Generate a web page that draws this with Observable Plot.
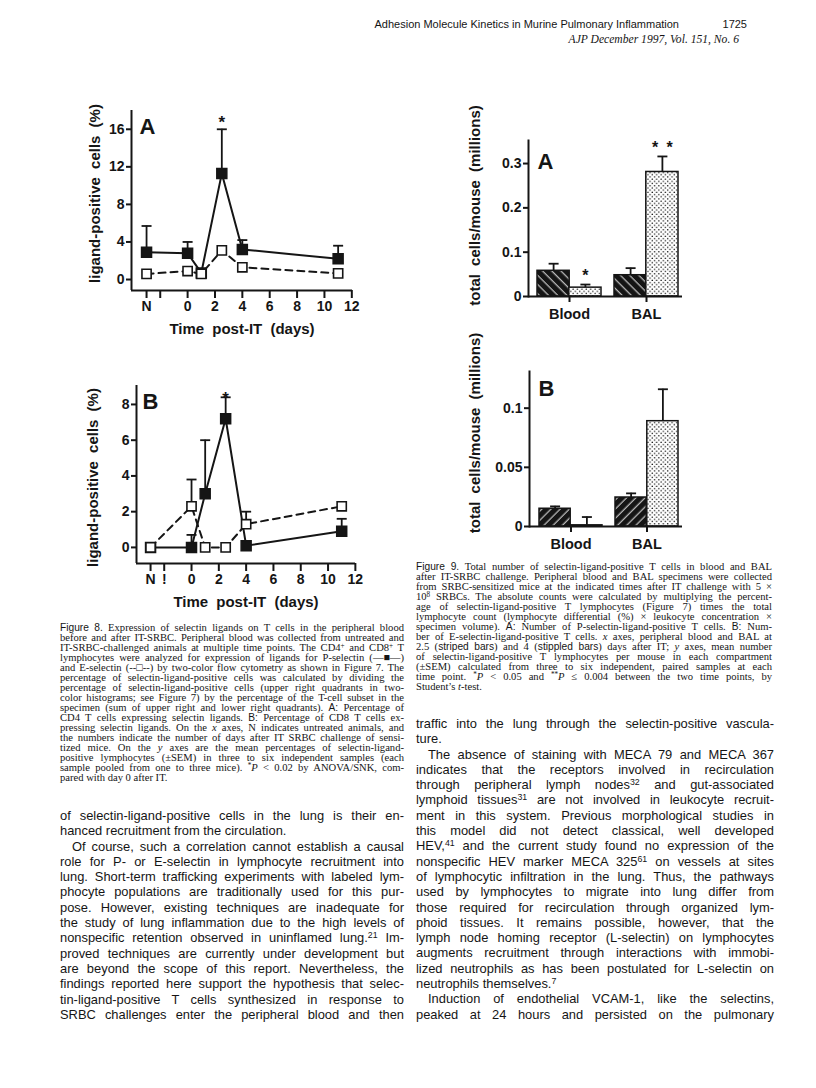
<!DOCTYPE html>
<html>
<head>
<meta charset="utf-8">
<script src="https://cdn.jsdelivr.net/npm/d3@7"></script>
<script src="https://cdn.jsdelivr.net/npm/@observablehq/plot@0.6"></script>
<style>
  html,body{margin:0;padding:0;background:#fff;}
  #page{position:relative;width:816px;height:1088px;overflow:hidden;background:#fff;color:#151515;}
  .abs{position:absolute;}
  .sans{font-family:"Liberation Sans",Arial,Helvetica,sans-serif;}
  .serif{font-family:"Liberation Serif","Times New Roman",Times,serif;}
  .cap{position:absolute;font-family:"Liberation Serif","Times New Roman",serif;font-size:10.6px;}
  .cap .fig{font-family:"Liberation Sans",Arial,sans-serif;font-size:10.2px;}
  .body{position:absolute;font-family:"Liberation Sans",Arial,sans-serif;font-size:12.9px;}
  sup{font-size:0.68em;line-height:0;vertical-align:0.45em;}
</style>
</head>
<body>
<div id="page">
  <svg width="0" height="0" style="position:absolute;left:0;top:0">
    <defs>
      <pattern id="hatchBack" patternUnits="userSpaceOnUse" width="6.5" height="6.5" patternTransform="rotate(-45)">
        <rect width="6.5" height="6.5" fill="#151515"/>
        <line x1="3" y1="0" x2="3" y2="6.5" stroke="#fff" stroke-width="0.9"/>
      </pattern>
      <pattern id="hatchFwd" patternUnits="userSpaceOnUse" width="6.5" height="6.5" patternTransform="rotate(45)">
        <rect width="6.5" height="6.5" fill="#151515"/>
        <line x1="3" y1="0" x2="3" y2="6.5" stroke="#fff" stroke-width="0.9"/>
      </pattern>
      <pattern id="stipple" patternUnits="userSpaceOnUse" width="4.4" height="4.4">
        <rect width="4.4" height="4.4" fill="#fff"/>
        <circle cx="1.1" cy="1.1" r="0.75" fill="#151515"/>
        <circle cx="3.3" cy="3.3" r="0.75" fill="#151515"/>
      </pattern>
    </defs>
  </svg>

  <div class="abs sans" id="hdr1" style="top:18px;font-size:11px;white-space:nowrap;">Adhesion Molecule Kinetics in Murine Pulmonary Inflammation</div>
  <div class="abs sans" id="hdr2" style="top:18px;font-size:11px;white-space:nowrap;">1725</div>
  <div class="abs serif" id="hdr3" style="top:33px;font-size:11.6px;font-style:italic;white-space:nowrap;">AJP December 1997, Vol. 151, No. 6</div>

  <div class="cap" id="cap8" style="left:60px;top:623px;width:344px;"></div>
  <div class="cap" id="cap9" style="left:416px;top:562px;width:356px;"></div>
  <div class="body" id="bodyL" style="left:60px;top:808px;width:344px;"></div>
  <div class="body" id="bodyR" style="left:416px;top:716px;width:358px;"></div>
</div>

<script>
// ---------------- DATA ----------------
// Figure 8: x = days after IT challenge (-3 stands for "N", untreated)
const dayTicks = [-3, -2, 0, 2, 4, 6, 8, 10, 12];
const days = [-3, 0, 1, 2.5, 4, 11];

// Fig 8A (CD4): P-selectin ligand (filled) and E-selectin ligand (open), % positive, SEM
const aPsel    = [2.9, 2.8, 0.7, 11.3, 3.2, 2.2];
const aPselErr = [2.8, 1.2, null, 4.7, 1.0, 1.4];
const aPselSig = ["", "", "", "*", "", ""];
const aEsel    = [0.6, 0.9, 0.6, 3.1, 1.3, 0.65];
const aEselErr = [null, null, null, null, null, null];
const aTicks   = [0, 4, 8, 12, 16];

// Fig 8B (CD8)
const bPsel    = [0, 0, 3.0, 7.2, 0.1, 0.9];
const bPselErr = [null, 0.7, 3.0, 1.2, null, 0.7];
const bPselSig = ["", "", "", "*", "", ""];
const bEsel    = [0, 2.3, 0, 0, 1.3, 2.3];
const bEselErr = [null, 1.5, null, null, 0.7, null];
const bTicks   = [0, 2, 4, 6, 8];

// Figure 9: total cells/mouse (millions) at 2.5 days (striped) and 4 days (stippled)
const sites = ["Blood", "BAL"];
const nineA_d25 = [0.058, 0.048], nineA_d25Err = [0.016, 0.016];
const nineA_d4  = [0.020, 0.281], nineA_d4Err  = [0.007, 0.035];
const nineA_d4Sig = ["*", "* *"];
const nineA_ticks = [0, 0.1, 0.2, 0.3];
const nineB_d25 = [0.015, 0.0245], nineB_d25Err = [0.002, 0.0035];
const nineB_d4  = [0.001, 0.089],  nineB_d4Err  = [0.007, 0.027];
const nineB_d4Sig = ["", ""];
const nineB_ticks = [0, 0.05, 0.1];

// ---------------- TEXT ----------------
const cap8Lines = [
  '<span class="fig">Figure 8.</span> Expression of selectin ligands on T cells in the peripheral blood',
  'before and after IT-SRBC. Peripheral blood was collected from untreated and',
  'IT-SRBC-challenged animals at multiple time points. The CD4<sup>+</sup> and CD8<sup>+</sup> T',
  'lymphocytes were analyzed for expression of ligands for P-selectin (\u2014\u25A0\u2014)',
  'and E-selectin (--\u25A1--) by two-color flow cytometry as shown in Figure 7. The',
  'percentage of selectin-ligand-positive cells was calculated by dividing the',
  'percentage of selectin-ligand-positive cells (upper right quadrants in two-',
  'color histograms; see Figure 7) by the percentage of the T-cell subset in the',
  'specimen (sum of upper right and lower right quadrants). <span class="fig">A:</span> Percentage of',
  'CD4 T cells expressing selectin ligands. <span class="fig">B:</span> Percentage of CD8 T cells ex-',
  'pressing selectin ligands. On the <i>x</i> axes, N indicates untreated animals, and',
  'the numbers indicate the number of days after IT SRBC challenge of sensi-',
  'tized mice. On the <i>y</i> axes are the mean percentages of selectin-ligand-',
  'positive lymphocytes (\u00B1SEM) in three to six independent samples (each',
  'sample pooled from one to three mice). <sup>*</sup><i>P</i> &lt; 0.02 by ANOVA/SNK, com-',
  'pared with day 0 after IT.'
];
const cap9Lines = [
  '<span class="fig">Figure 9.</span> Total number of selectin-ligand-positive T cells in blood and BAL',
  'after IT-SRBC challenge. Peripheral blood and BAL specimens were collected',
  'from SRBC-sensitized mice at the indicated times after IT challenge with 5 \u00D7',
  '10<sup>8</sup> SRBCs. The absolute counts were calculated by multiplying the percent-',
  'age of selectin-ligand-positive T lymphocytes (Figure 7) times the total',
  'lymphocyte count (lymphocyte differential (%) \u00D7 leukocyte concentration \u00D7',
  'specimen volume). <span class="fig">A:</span> Number of P-selectin-ligand-positive T cells. <span class="fig">B:</span> Num-',
  'ber of E-selectin-ligand-positive T cells. <i>x</i> axes, peripheral blood and BAL at',
  '2.5 (<span class="fig">striped bars</span>) and 4 (<span class="fig">stippled bars</span>) days after IT; <i>y</i> axes, mean number',
  'of selectin-ligand-positive T lymphocytes per mouse in each compartment',
  '(\u00B1SEM) calculated from three to six independent, paired samples at each',
  'time point. <sup>*</sup><i>P</i> &lt; 0.05 and <sup>**</sup><i>P</i> \u2264 0.004 between the two time points, by',
  'Student\u2019s <i>t</i>-test.'
];
const bodyLLines = [
  'of selectin-ligand-positive cells in the lung is their en-',
  'hanced recruitment from the circulation.',
  'Of course, such a correlation cannot establish a causal',
  'role for P- or E-selectin in lymphocyte recruitment into',
  'lung. Short-term trafficking experiments with labeled lym-',
  'phocyte populations are traditionally used for this pur-',
  'pose. However, existing techniques are inadequate for',
  'the study of lung inflammation due to the high levels of',
  'nonspecific retention observed in uninflamed lung.<sup>21</sup> Im-',
  'proved techniques are currently under development but',
  'are beyond the scope of this report. Nevertheless, the',
  'findings reported here support the hypothesis that selec-',
  'tin-ligand-positive T cells synthesized in response to',
  'SRBC challenges enter the peripheral blood and then'
];
const bodyRLines = [
  'traffic into the lung through the selectin-positive vascula-',
  'ture.',
  'The absence of staining with MECA 79 and MECA 367',
  'indicates that the receptors involved in recirculation',
  'through peripheral lymph nodes<sup>32</sup> and gut-associated',
  'lymphoid tissues<sup>31</sup> are not involved in leukocyte recruit-',
  'ment in this system. Previous morphological studies in',
  'this model did not detect classical, well developed',
  'HEV,<sup>41</sup> and the current study found no expression of the',
  'nonspecific HEV marker MECA 325<sup>61</sup> on vessels at sites',
  'of lymphocytic infiltration in the lung. Thus, the pathways',
  'used by lymphocytes to migrate into lung differ from',
  'those required for recirculation through organized lym-',
  'phoid tissues. It remains possible, however, that the',
  'lymph node homing receptor (L-selectin) on lymphocytes',
  'augments recruitment through interactions with immobi-',
  'lized neutrophils as has been postulated for L-selectin on',
  'neutrophils themselves.<sup>7</sup>',
  'Induction of endothelial VCAM-1, like the selectins,',
  'peaked at 24 hours and persisted on the pulmonary'
];

function placeLines(id, lines, lh, ragged, indent, indentPx) {
  const box = document.getElementById(id);
  const width = box.getBoundingClientRect().width;
  lines.forEach((html, i) => {
    const div = document.createElement("div");
    div.style.height = lh + "px";
    div.style.lineHeight = lh + "px";
    const ind = indent.includes(i) ? indentPx : 0;
    div.style.paddingLeft = ind + "px";
    const span = document.createElement("span");
    span.innerHTML = html;
    span.style.whiteSpace = "nowrap";
    div.appendChild(span);
    box.appendChild(div);
    if (!ragged.includes(i)) {
      const natural = span.getBoundingClientRect().width;
      const spaces = (span.textContent.match(/ /g) || []).length;
      if (spaces) span.style.wordSpacing = ((width - ind - natural) / spaces) + "px";
    }
  });
}
placeLines("cap8", cap8Lines, 10, [15], [], 0);
placeLines("cap9", cap9Lines, 10, [12], [], 0);
placeLines("bodyL", bodyLLines, 15.3, [1], [2], 12);
placeLines("bodyR", bodyRLines, 15.3, [1, 17], [2, 18], 12);

// header placement
(function () {
  const h1 = document.getElementById("hdr1"), h2 = document.getElementById("hdr2"), h3 = document.getElementById("hdr3");
  h2.style.left = (747 - h2.getBoundingClientRect().width) + "px";
  h1.style.left = (679 - h1.getBoundingClientRect().width) + "px";
  h3.style.left = (739 - h3.getBoundingClientRect().width) + "px";
})();

// ---------------- CHARTS ----------------
const page = document.getElementById("page");
const SQ = 10 / Math.sqrt(Math.PI);
const capSym = { draw(ctx, size) { const w = Math.sqrt(size / Math.PI); ctx.moveTo(-w, 0); ctx.lineTo(w, 0); } };
const svgStyle = "font-family:'Liberation Sans',Arial,Helvetica,sans-serif;font-weight:bold;font-size:14px;word-spacing:4px;background:transparent;overflow:visible;color:#151515;";

function rows(xs, vals, errs, sig) {
  return xs.map((x, i) => ({ x, v: vals[i], top: errs[i] == null ? null : vals[i] + errs[i], sig: sig ? sig[i] : "" }));
}

function place(svg, left, top) {
  svg.style.position = "absolute";
  svg.style.left = left + "px";
  svg.style.top = top + "px";
  page.appendChild(svg);
}

function lineChart(o) {
  const P = rows(days, o.p, o.pErr, o.pSig);
  const E = rows(days, o.e, o.eErr, null);
  const PE = P.filter(d => d.top != null), EE = E.filter(d => d.top != null);
  const S = P.filter(d => d.sig);
  return Plot.plot({
    width: o.w, height: o.h,
    marginLeft: o.ml, marginRight: o.mr, marginTop: o.mt, marginBottom: o.mb,
    style: svgStyle,
    x: { domain: o.xd }, y: { domain: o.yd },
    marks: [
      Plot.ruleX([o.xd[0]], { strokeWidth: 2 }),
      Plot.ruleY([o.yd[0]], { strokeWidth: 2 }),
      Plot.axisY({ ticks: o.yTicks, tickSize: 5, tickPadding: 2, fontSize: 14, label: null, strokeWidth: 2 }),
      Plot.axisX({ ticks: dayTicks, tickFormat: o.xFmt, tickSize: 8, tickPadding: 3, fontSize: 14, label: null, strokeWidth: 2 }),
      Plot.line(P, { x: "x", y: "v", strokeWidth: 2 }),
      Plot.line(E, { x: "x", y: "v", strokeWidth: 2, strokeDasharray: "7,5" }),
      Plot.ruleX(PE, { x: "x", y1: "v", y2: "top", strokeWidth: 1.8 }),
      Plot.dot(PE, { x: "x", y: "top", symbol: capSym, r: 5, fill: "none", stroke: "#151515", strokeWidth: 1.8 }),
      Plot.ruleX(EE, { x: "x", y1: "v", y2: "top", strokeWidth: 1.8 }),
      Plot.dot(EE, { x: "x", y: "top", symbol: capSym, r: 5, fill: "none", stroke: "#151515", strokeWidth: 1.8 }),
      Plot.dot(P, { x: "x", y: "v", symbol: "square", r: SQ, fill: "#151515", stroke: "#151515" }),
      Plot.dot(E, { x: "x", y: "v", symbol: "square", r: SQ * 0.92, fill: "white", stroke: "#151515", strokeWidth: 1.6 }),
      Plot.text(S, { x: "x", y: "top", text: "sig", dy: o.starDy, fontSize: 17 }),
      Plot.text([o.letter], { text: d => d, frameAnchor: "top-left", textAnchor: "start", lineAnchor: "top", dx: o.ldx, dy: o.ldy, fontSize: 22, fontWeight: "bold" }),
      Plot.text(["ligand-positive cells (%)"], { text: d => d, frameAnchor: "left", textAnchor: "middle", lineAnchor: "middle", rotate: -90, dx: o.yldx, dy: o.yldy, fontSize: 15 }),
      Plot.text(["Time post-IT (days)"], { text: d => d, frameAnchor: "bottom", textAnchor: "middle", lineAnchor: "middle", dy: 39, fontSize: 15 })
    ]
  });
}

place(lineChart({
  w: 310, h: 250, ml: 71, mr: 18, mt: 15, mb: 55,
  xd: [-4.1, 12.05], yd: [-1.17, 18.0], yTicks: aTicks,
  xFmt: d => d === -3 ? "N" : d === -2 ? "" : String(d),
  p: aPsel, pErr: aPselErr, pSig: aPselSig, e: aEsel, eErr: aEselErr,
  letter: "A", ldx: 8, ldy: 8, yldx: -36, yldy: -7, starDy: -7
}), 60, 95);

place(lineChart({
  w: 310, h: 250, ml: 76, mr: 15, mt: 15, mb: 57,
  xd: [-4.03, 12.01], yd: [-0.9, 9.06], yTicks: bTicks,
  xFmt: d => d === -3 ? "N" : d === -2 ? "!" : String(d),
  p: bPsel, pErr: bPselErr, pSig: bPselSig, e: bEsel, eErr: bEselErr,
  letter: "B", ldx: 6, ldy: 8, yldx: -43, yldy: 3, starDy: 1
}), 60, 370);

function barChart(o) {
  const R25 = rows(sites, o.d25, o.d25Err, null);
  const R4 = rows(sites, o.d4, o.d4Err, o.d4Sig);
  const S = R4.filter(d => d.sig);
  const half = 31.8, q = 15.9;
  return Plot.plot({
    width: o.w, height: o.h,
    marginLeft: o.ml, marginRight: o.mr, marginTop: o.mt, marginBottom: o.mb,
    style: svgStyle,
    x: { domain: sites, paddingInner: 0.175, paddingOuter: 0.085, align: 0.69 },
    y: { domain: o.yd },
    marks: [
      Plot.barY(R25, { x: "x", y: "v", insetRight: half, fill: o.hatch, stroke: "#151515", strokeWidth: 1.5 }),
      Plot.barY(R4, { x: "x", y: "v", insetLeft: half, fill: "url(#stipple)", stroke: "#151515", strokeWidth: 1.5 }),
      Plot.ruleX(R25, { x: "x", y1: "v", y2: "top", dx: -q, strokeWidth: 1.8 }),
      Plot.dot(R25, { x: "x", y: "top", dx: -q, symbol: capSym, r: 5, fill: "none", stroke: "#151515", strokeWidth: 1.8 }),
      Plot.ruleX(R4, { x: "x", y1: "v", y2: "top", dx: q, strokeWidth: 1.8 }),
      Plot.dot(R4, { x: "x", y: "top", dx: q, symbol: capSym, r: 5, fill: "none", stroke: "#151515", strokeWidth: 1.8 }),
      Plot.text(S, { x: "x", y: "top", text: "sig", dx: q, dy: -9, fontSize: 16 }),
      Plot.ruleY([0], { strokeWidth: 2 }),
      Plot.frame({ anchor: "left", strokeWidth: 2 }),
      Plot.axisY({ ticks: o.ticks, tickFormat: d => d === 0 ? "0" : String(d), tickSize: 5, tickPadding: 2, fontSize: 14, label: null, strokeWidth: 2 }),
      Plot.axisX({ tickSize: 6, tickPadding: 6, fontSize: 14.5, label: null, strokeWidth: 2 }),
      Plot.text([o.letter], { text: d => d, frameAnchor: "top-left", textAnchor: "start", lineAnchor: "top", dx: o.ldx, dy: o.ldy, fontSize: 22, fontWeight: "bold" }),
      Plot.text(["total cells/mouse (millions)"], { text: d => d, frameAnchor: "left", textAnchor: "middle", lineAnchor: "middle", rotate: -90, dx: o.yldx, dy: o.yldy, fontSize: 15 })
    ]
  });
}

place(barChart({
  w: 300, h: 240, ml: 88, mr: 58, mt: 50, mb: 34, yd: [0, 0.352], ticks: nineA_ticks,
  d25: nineA_d25, d25Err: nineA_d25Err, d4: nineA_d4, d4Err: nineA_d4Err, d4Sig: nineA_d4Sig,
  hatch: "url(#hatchBack)", letter: "A", ldx: 9, ldy: 13, yldx: -53, yldy: -13
}), 440, 90);

place(barChart({
  w: 300, h: 230, ml: 89, mr: 58, mt: 31, mb: 44, yd: [0, 0.131], ticks: nineB_ticks,
  d25: nineB_d25, d25Err: nineB_d25Err, d4: nineB_d4, d4Err: nineB_d4Err, d4Sig: nineB_d4Sig,
  hatch: "url(#hatchFwd)", letter: "B", ldx: 9, ldy: 9, yldx: -54, yldy: -16
}), 440, 340);
</script>
</body>
</html>
